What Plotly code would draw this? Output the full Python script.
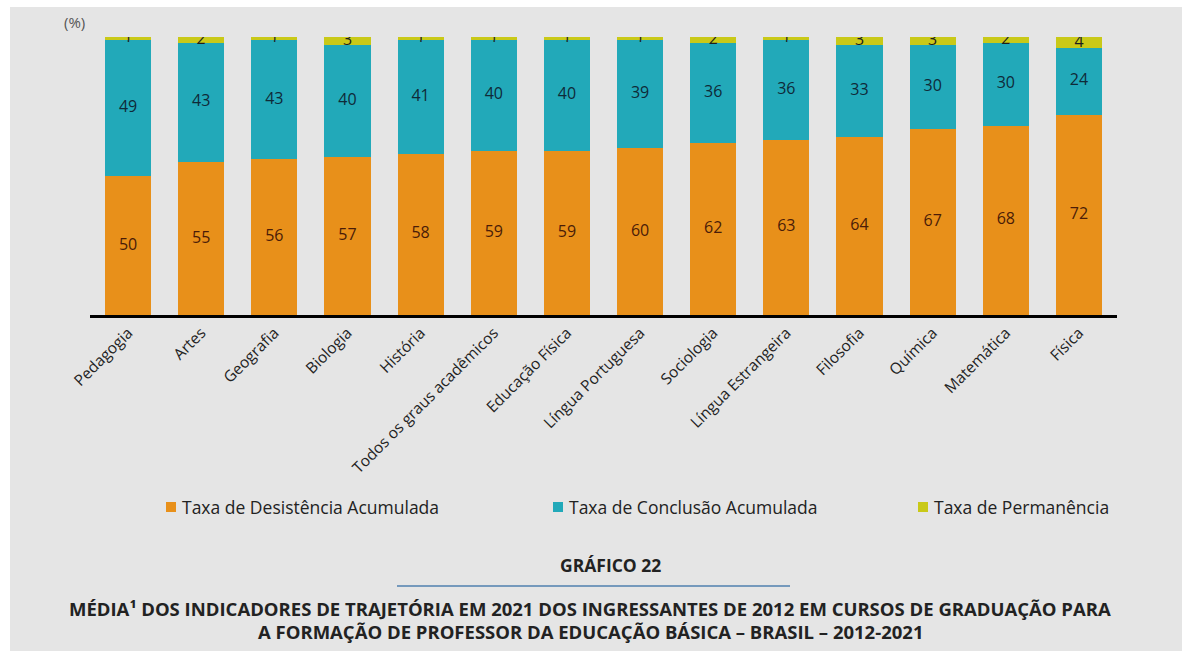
import plotly.graph_objects as go

cursos = ["Pedagogia", "Artes", "Geografia", "Biologia", "História",
          "Todos os graus acadêmicos", "Educação Física", "Língua Portuguesa",
          "Sociologia", "Língua Estrangeira", "Filosofia", "Química",
          "Matemática", "Física"]
desistencia = [50, 55, 56, 57, 58, 59, 59, 60, 62, 63, 64, 67, 68, 72]
conclusao = [49, 43, 43, 40, 41, 40, 40, 39, 36, 36, 33, 30, 30, 24]
permanencia = [1, 2, 1, 3, 1, 1, 1, 1, 2, 1, 3, 3, 2, 4]

series = [
    ("Taxa de Desistência Acumulada", desistencia, "#E8901A", "#4a1c08"),
    ("Taxa de Conclusão Acumulada", conclusao, "#22A9B9", "#0f2a38"),
    ("Taxa de Permanência", permanencia, "#C9C918", "#1e1e1e"),
]

FONT = "Open Sans"
fig = go.Figure()

base = [0] * len(cursos)
for nome, vals, cor, cor_txt in series:
    fig.add_trace(go.Bar(
        x=cursos, y=vals, name=nome, marker=dict(color=cor, line=dict(width=0)),
        width=0.63, showlegend=False,
    ))
    mids = [b + v / 2 for b, v in zip(base, vals)]
    fig.add_trace(go.Scatter(
        x=cursos, y=mids, mode="text", text=[str(v) for v in vals],
        textfont=dict(family=FONT, size=16, color=cor_txt),
        showlegend=False, hoverinfo="skip",
    ))
    base = [b + v for b, v in zip(base, vals)]

W, H = 1182, 651
L, R, T, B = 90, 65, 37, 336
pw, ph = W - L - R, H - T - B


def px(x):
    return (x - L) / pw


def py(y):
    return (H - B - y) / ph


shapes = [
    dict(type="rect", xref="paper", yref="paper",
         x0=px(0), x1=px(W), y0=py(0), y1=py(7),
         fillcolor="#ffffff", line=dict(width=0), layer="below"),
    dict(type="rect", xref="paper", yref="paper",
         x0=px(0), x1=px(10), y0=py(0), y1=py(H),
         fillcolor="#ffffff", line=dict(width=0), layer="below"),
    dict(type="line", xref="paper", yref="paper",
         x0=px(397), x1=px(790), y0=py(586), y1=py(586),
         line=dict(color="#4f7fae", width=1.5)),
]

annotations = [
    dict(text="(%)", xref="paper", yref="paper", x=px(74), y=py(22),
         xanchor="center", yanchor="middle", showarrow=False,
         font=dict(family=FONT, size=15, color="#555555")),
    dict(text="<b>GRÁFICO 22</b>", xref="paper", yref="paper",
         x=px(610), y=py(565), xanchor="center", yanchor="middle",
         showarrow=False, font=dict(family=FONT, size=17.5, color="#222222")),
    dict(text="<b>MÉDIA¹ DOS INDICADORES DE TRAJETÓRIA EM 2021 DOS INGRESSANTES DE 2012 EM CURSOS DE GRADUAÇÃO PARA</b>",
         xref="paper", yref="paper", x=px(590), y=py(608),
         xanchor="center", yanchor="middle", showarrow=False,
         font=dict(family=FONT, size=18.5, color="#222222")),
    dict(text="<b>A FORMAÇÃO DE PROFESSOR DA EDUCAÇÃO BÁSICA – BRASIL – 2012-2021</b>",
         xref="paper", yref="paper", x=px(590), y=py(631),
         xanchor="center", yanchor="middle", showarrow=False,
         font=dict(family=FONT, size=18.5, color="#222222")),
]

# legend row: colour key square followed by the series name
legend_x = [166, 553, 918]
legend_y = 507
for lx, (nome, _, cor, _) in zip(legend_x, series):
    shapes.append(dict(type="rect", xref="paper", yref="paper",
                       x0=px(lx), x1=px(lx + 10),
                       y0=py(legend_y + 5), y1=py(legend_y - 5),
                       fillcolor=cor, line=dict(width=0)))
    annotations.append(dict(text=nome, xref="paper", yref="paper",
                            x=px(lx + 14), y=py(legend_y),
                            xanchor="left", yanchor="middle", showarrow=False,
                            font=dict(family=FONT, size=17.5, color="#222222")))

fig.update_layout(
    width=W, height=H,
    margin=dict(l=L, r=R, t=T, b=B, pad=0),
    barmode="stack",
    showlegend=False,
    paper_bgcolor="#e5e5e5",
    plot_bgcolor="#e5e5e5",
    font=dict(family=FONT, color="#222222", size=14),
    xaxis=dict(
        type="category", range=[-0.52, len(cursos) - 0.48],
        showline=True, linecolor="#000000", linewidth=2.5,
        showgrid=False, ticks="", tickangle=-45,
        tickfont=dict(family=FONT, size=15.5, color="#222222"),
        fixedrange=True,
    ),
    yaxis=dict(range=[0, 100], visible=False, fixedrange=True),
    shapes=shapes,
    annotations=annotations,
)

fig.write_html("out.html")
